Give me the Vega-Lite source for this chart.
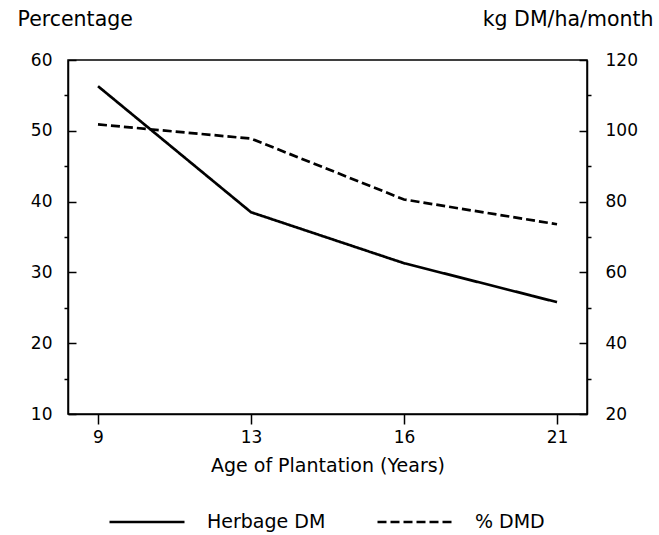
{
  "$schema": "https://vega.github.io/schema/vega-lite/v6.json",
  "width": 519,
  "height": 354,
  "autosize": {"type": "none"},
  "padding": {"left": 68, "top": 60, "right": 72, "bottom": 121},
  "background": "white",
  "config": {
    "font": "DejaVu Sans",
    "view": {"stroke": "black", "strokeWidth": 1.5},
    "axis": {"grid": false, "domainColor": "black", "tickColor": "black", "labelColor": "black", "titleColor": "black", "domainWidth": 1.5, "tickWidth": 1.5}
  },
  "data": {
    "values": [
      {"age": 9, "series": "% DMD", "value": 50.9},
      {"age": 13, "series": "% DMD", "value": 48.9},
      {"age": 16, "series": "% DMD", "value": 40.3},
      {"age": 21, "series": "% DMD", "value": 36.8},
      {"age": 9, "series": "Herbage DM", "value": 112.6},
      {"age": 13, "series": "Herbage DM", "value": 77.0},
      {"age": 16, "series": "Herbage DM", "value": 62.6},
      {"age": 21, "series": "Herbage DM", "value": 51.6}
    ]
  },
  "layer": [
    {
      "transform": [{"filter": "datum.series === '% DMD'"}],
      "mark": {"type": "line", "color": "black", "strokeWidth": 2.7},
      "encoding": {
        "x": {
          "field": "age", "type": "ordinal",
          "scale": {"type": "point", "padding": 0.196},
          "axis": {"title": "Age of Plantation (Years)", "labelAngle": 0, "tickSize": 10, "labelPadding": 5, "labelFontSize": 17, "titleFontSize": 19, "titleFontWeight": "normal", "titlePadding": 11}
        },
        "y": {
          "field": "value", "type": "quantitative",
          "scale": {"domain": [10, 60], "nice": false, "zero": false},
          "axis": {
            "orient": "left",
            "values": [10, 15, 20, 25, 30, 35, 40, 45, 50, 55, 60],
            "labelExpr": "datum.value % 10 === 0 ? datum.label : ''",
            "tickSize": {"expr": "datum.value % 10 === 0 ? -8 : 4"},
            "labelPadding": 24,
            "labelFontSize": 17,
            "title": "Percentage",
            "titleAngle": 0, "titleAlign": "left", "titleBaseline": "alphabetic",
            "titleX": -51, "titleY": -35, "titleFontSize": 20.5, "titleFontWeight": "normal"
          }
        },
        "strokeDash": {
          "field": "series", "type": "nominal",
          "scale": {"domain": ["Herbage DM", "% DMD"], "range": [[1, 0], [9, 4]]},
          "legend": {"title": null, "orient": "none", "legendX": 40, "legendY": 423, "direction": "horizontal", "symbolType": "stroke", "symbolSize": 5625, "symbolStrokeWidth": 2.7, "symbolStrokeColor": "black", "labelFontSize": 19, "labelOffset": 21, "columnPadding": 46, "padding": 0}
        }
      }
    },
    {
      "transform": [{"filter": "datum.series === 'Herbage DM'"}],
      "mark": {"type": "line", "color": "black", "strokeWidth": 2.7},
      "encoding": {
        "x": {"field": "age", "type": "ordinal", "scale": {"type": "point", "padding": 0.196}},
        "y": {
          "field": "value", "type": "quantitative",
          "scale": {"domain": [20, 120], "nice": false, "zero": false},
          "axis": {
            "orient": "right",
            "values": [20, 30, 40, 50, 60, 70, 80, 90, 100, 110, 120],
            "labelExpr": "datum.value % 20 === 0 ? datum.label : ''",
            "tickSize": {"expr": "datum.value % 20 === 0 ? -8 : 4"},
            "labelPadding": 26,
            "labelFontSize": 17,
            "title": "kg DM/ha/month",
            "titleAngle": 0, "titleAlign": "right", "titleBaseline": "alphabetic",
            "titleX": 66, "titleY": -35, "titleFontSize": 20.5, "titleFontWeight": "normal"
          }
        },
        "strokeDash": {"field": "series", "type": "nominal", "scale": {"domain": ["Herbage DM", "% DMD"], "range": [[1, 0], [9, 4]]}}
      }
    }
  ],
  "resolve": {"scale": {"y": "independent"}}
}
